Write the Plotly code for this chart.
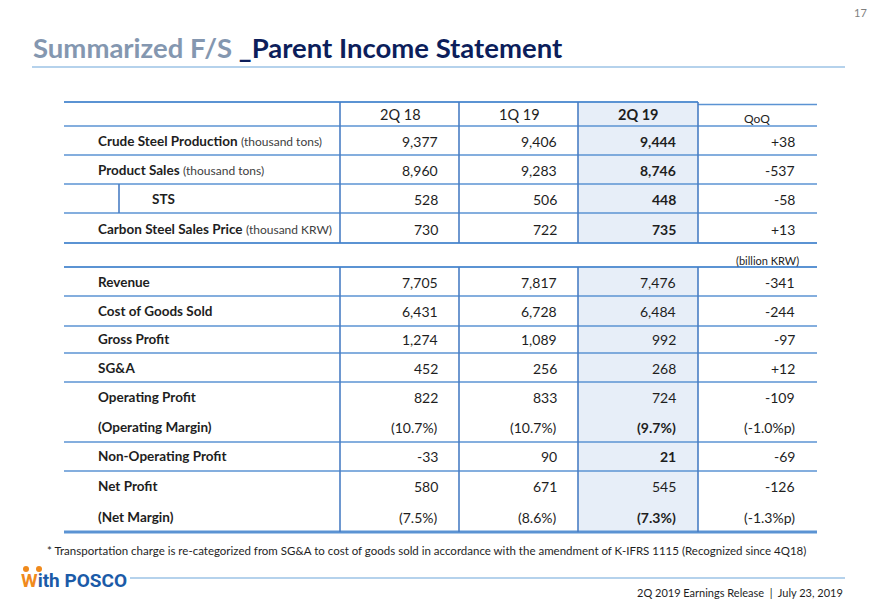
import plotly.graph_objects as go

# ---------------- data ----------------
periods = ["2Q 18", "1Q 19", "2Q 19"]
qoq_header = "QoQ"

op_labels = ["Crude Steel Production", "Product Sales", "STS", "Carbon Steel Sales Price"]
op_units = ["(thousand tons)", "(thousand tons)", "", "(thousand KRW)"]
op_2q18 = [9377, 8960, 528, 730]
op_1q19 = [9406, 9283, 506, 722]
op_2q19 = [9444, 8746, 448, 735]
op_qoq = [38, -537, -58, 13]

fin_unit = "(billion KRW)"
fin_labels = ["Revenue", "Cost of Goods Sold", "Gross Profit", "SG&A", "Operating Profit",
              "(Operating Margin)", "Non-Operating Profit", "Net Profit", "(Net Margin)"]
fin_2q18 = [7705, 6431, 1274, 452, 822, 10.7, -33, 580, 7.5]
fin_1q19 = [7817, 6728, 1089, 256, 833, 10.7, 90, 671, 8.6]
fin_2q19 = [7476, 6484, 992, 268, 724, 9.7, 21, 545, 7.3]
fin_qoq = [-341, -244, -97, 12, -109, -1.0, -69, -126, -1.3]
fin_is_margin = [False, False, False, False, False, True, False, False, True]
fin_bold_2q19 = [False, False, False, False, False, True, True, False, True]

title_a = "Summarized F/S "
title_b = "_Parent Income Statement"
page_no = "17"
footnote = ("* Transportation charge is re-categorized from SG&A to cost of goods sold in accordance "
            "with the amendment of K-IFRS 1115 (Recognized since 4Q18)")
footer = "2Q 2019 Earnings Release  |  July 23, 2019"

# ---------------- style / layout ----------------
FONT = "Lato"
TXT = "#1e1e1e"
LINE = "#5B93D3"
VLINE = "#4A7EC4"
SHADE = "#E7EEF8"

W, H = 880, 609
fig = go.Figure()
fig.add_trace(go.Scatter(x=[0], y=[0], mode="markers", marker=dict(opacity=0), hoverinfo="skip", showlegend=False))

shapes = []
ann = []

def hline(y, x0=64, x1=817, color=LINE, width=1.6):
    shapes.append(dict(type="line", x0=x0, x1=x1, y0=y, y1=y, line=dict(color=color, width=width), layer="above"))

def vline(x, y0, y1, color=VLINE, width=1.6):
    shapes.append(dict(type="line", x0=x, x1=x, y0=y0, y1=y1, line=dict(color=color, width=width), layer="above"))

def text(x, y, s, size=14, anchor="left", color=TXT, bold=False, family=FONT, yanchor="middle"):
    if bold:
        s = "<b>" + s + "</b>"
    ann.append(dict(x=x, y=y, xref="x", yref="y", text=s, showarrow=False, xanchor=anchor, yanchor=yanchor,
                    font=dict(family=family, size=size, color=color)))

def fmt_num(v):
    return f"{v:,}"

def fmt_qoq(v):
    return f"{v:+,}"

def fmt_margin(v):
    return f"({v:.1f}%)"

def fmt_margin_qoq(v):
    return f"({v:.1f}%p)"

# column geometry
col_lines = [340, 459, 578, 698]
col_right = [440, 559, 678, 797]
col_center = [400, 519, 638, 757]

# shaded 2Q19 column
shapes.append(dict(type="rect", x0=578, x1=698, y0=102, y1=243, fillcolor=SHADE, line=dict(width=0), layer="below"))
shapes.append(dict(type="rect", x0=578, x1=698, y0=267, y1=532, fillcolor=SHADE, line=dict(width=0), layer="below"))

# title
text(31, 47, f"<span style='color:#8497B0'>{title_a}</span><span style='color:#0C1E5B'>{title_b}</span>",
     size=27.5, bold=True, family="Lato")
hline(67, 32, 845, color="#9DC3E6", width=1.5)
text(869, 12, page_no, size=11, anchor="right", color="#7f7f7f")

# header
hline(102, 64, 698, width=2)
hline(104.5, 698, 817, width=1.4)
hline(126)
for i, p in enumerate(periods):
    text(col_center[i], 114, p, size=14.5, anchor="center", bold=(i == 2))
text(col_center[3], 118, qoq_header, size=12, anchor="center")

# operational rows
op_y = [141, 170, 199, 229]
for i, lab in enumerate(op_labels):
    if op_units[i]:
        s = f"<b>{lab}</b> <span style='font-size:12px;color:#404040'>{op_units[i]}</span>"
        text(96, op_y[i], s, size=13.5)
    else:
        text(150, op_y[i], lab, size=13.5, bold=True)
    text(col_right[0], op_y[i], fmt_num(op_2q18[i]), size=14, anchor="right")
    text(col_right[1], op_y[i], fmt_num(op_1q19[i]), size=14, anchor="right")
    text(col_right[2], op_y[i], fmt_num(op_2q19[i]), size=14, anchor="right", bold=True)
    text(col_right[3], op_y[i], fmt_qoq(op_qoq[i]), size=14, anchor="right")
for y in [155, 184, 213]:
    hline(y)
hline(243, width=2)
vline(119, 184, 213)
for x in col_lines:
    vline(x, 102, 243)

# unit note
text(801, 260, fin_unit, size=11, anchor="right")

# financial rows
fin_y = [282, 311, 339, 368, 397, 427, 456, 486, 517]
for i, lab in enumerate(fin_labels):
    y = fin_y[i]
    text(96, y, lab, size=13.5, bold=True)
    if fin_is_margin[i]:
        vals = [fmt_margin(fin_2q18[i]), fmt_margin(fin_1q19[i]), fmt_margin(fin_2q19[i]), fmt_margin_qoq(fin_qoq[i])]
    else:
        vals = [fmt_num(fin_2q18[i]), fmt_num(fin_1q19[i]), fmt_num(fin_2q19[i]), fmt_qoq(fin_qoq[i])]
    for j, v in enumerate(vals):
        text(col_right[j], y, v, size=14, anchor="right", bold=(j == 2 and fin_bold_2q19[i]))
hline(267, width=2)
for y in [296, 326, 353, 382, 442, 471]:
    hline(y)
hline(532, width=3)
for x in col_lines:
    vline(x, 267, 532)

# footnote
text(45, 550, footnote, size=11.5, color="#1e1e1e")

# logo + footer
shapes.append(dict(type="circle", x0=23, x1=29, y0=566, y1=572, fillcolor="#F08A1C", line=dict(width=0)))
shapes.append(dict(type="circle", x0=36, x1=42, y0=566, y1=572, fillcolor="#F08A1C", line=dict(width=0)))
text(19, 580, "<span style='color:#F08A1C'>W</span><span style='color:#1B5BA8'>ith POSCO</span>",
     size=19, bold=True, family="Roboto")
hline(578, 130, 845, color="#9DC3E6", width=1.5)
text(845, 592, footer, size=11, anchor="right", color="#1e1e1e")

fig.update_layout(
    width=W, height=H, margin=dict(l=0, r=0, t=0, b=0),
    paper_bgcolor="white", plot_bgcolor="white",
    xaxis=dict(range=[0, W], visible=False, fixedrange=True),
    yaxis=dict(range=[H, 0], visible=False, fixedrange=True),
    shapes=shapes, annotations=ann, showlegend=False,
)
fig.write_html("out.html", config={"displayModeBar": False},
               post_script="document.body.style.margin='0';")
